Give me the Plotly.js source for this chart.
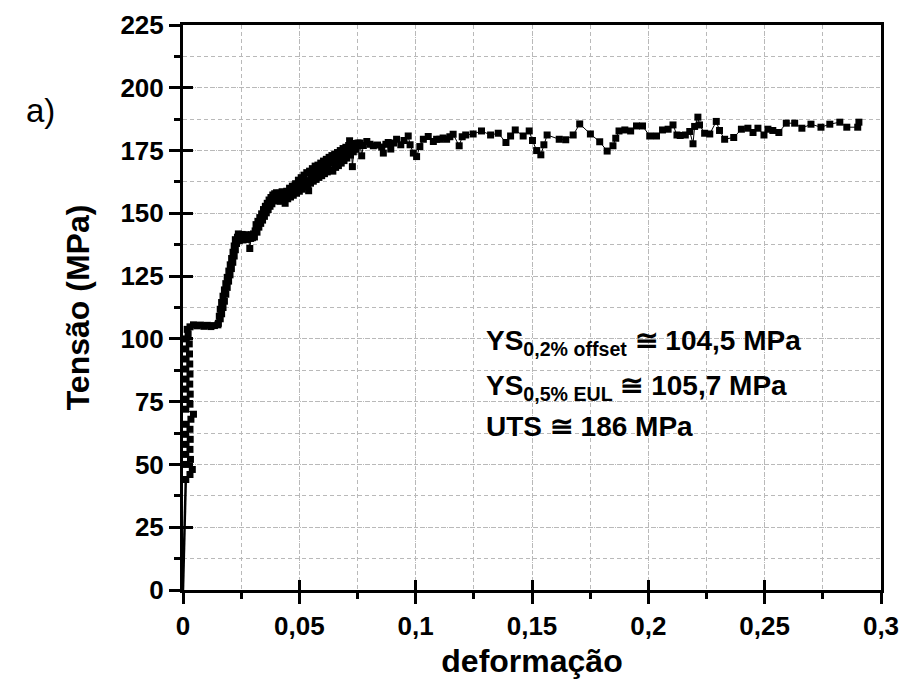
<!DOCTYPE html>
<html><head><meta charset="utf-8">
<script src="https://cdn.plot.ly/plotly-3.0.1.min.js"></script>
<style>html,body{margin:0;padding:0;background:#fff;}#chart{width:903px;height:684px;}</style>
</head><body><div id="chart"></div>
<script>
// initial elastic loading (drawn as line only)
const initStrain = [0, 0.0002, 0.0003, 0.0005, 0.0006, 0.0008, 0.0010, 0.0012];
const initStress = [0, 6, 12, 18, 24, 30, 37, 44];

// remaining test record (line + symbol)
const strain = [
  // elastic band
  0.0012, 0.0030, 0.0040, 0.0014, 0.0032, 0.0012, 0.0030, 0.0013, 0.0031, 0.0012, 0.0030, 0.0014, 0.0034, 0.0045, 0.0012, 0.0030,
  0.0013, 0.0031, 0.0012, 0.0029, 0.0013, 0.0030, 0.0012, 0.0029, 0.0013, 0.0028, 0.0012, 0.0027, 0.0014, 0.0022, 0.0018,
  // yield plateau
  0.0030, 0.0045, 0.0060, 0.0075, 0.0090, 0.0105, 0.0120, 0.0135, 0.0150,
  // rise
  0.0152, 0.0160, 0.0156, 0.0166, 0.0160, 0.0172, 0.0166, 0.0178, 0.0172, 0.0184, 0.0178, 0.0190, 0.0184, 0.0196, 0.0190,
  0.0202, 0.0197, 0.0208, 0.0203, 0.0214, 0.0209, 0.0220, 0.0215, 0.0225, 0.0220, 0.0230, 0.0225, 0.0234,
  // second plateau
  0.0238, 0.0242, 0.0246, 0.0250, 0.0254, 0.0258, 0.0262, 0.0266, 0.0270, 0.0274, 0.0278, 0.0282, 0.0287, 0.0291, 0.0295, 0.0299, 0.0303, 0.0307,
  // rise
  0.0310, 0.0314, 0.0318, 0.0322, 0.0326, 0.0330, 0.0334, 0.0338, 0.0342, 0.0346, 0.0350, 0.0354, 0.0358, 0.0362, 0.0366, 0.0370,
  0.0374, 0.0378, 0.0382, 0.0386, 0.0390, 0.0394, 0.0398,
  0.0402, 0.0406, 0.0410, 0.0414, 0.0418, 0.0422, 0.0426, 0.0430, 0.0434, 0.0439, 0.0442, 0.0446, 0.0450, 0.0454, 0.0458, 0.0462,
  0.0466, 0.0470, 0.0474, 0.0478, 0.0482,
  // dense band
  0.0484, 0.0488, 0.0492, 0.0496, 0.0500, 0.0504, 0.0508, 0.0512, 0.0516, 0.0520, 0.0524, 0.0528, 0.0532, 0.0536, 0.0540, 0.0544,
  0.0548, 0.0552, 0.0556, 0.0560, 0.0564, 0.0568, 0.0572, 0.0576, 0.0580, 0.0584, 0.0588, 0.0592, 0.0596, 0.0600, 0.0604, 0.0608,
  0.0612, 0.0616, 0.0620, 0.0624, 0.0628, 0.0632, 0.0636, 0.0640, 0.0644, 0.0648, 0.0652, 0.0656, 0.0660, 0.0664, 0.0668, 0.0672,
  0.0676, 0.0680, 0.0684, 0.0688, 0.0692, 0.0696, 0.0700, 0.0704, 0.0708, 0.0712, 0.0716, 0.0720, 0.0724, 0.0728, 0.0732, 0.0736,
  0.0740, 0.0744, 0.0748, 0.0752,
  // hardening to saturation
  0.0761, 0.0768, 0.0775, 0.0790, 0.0804, 0.0818, 0.0836, 0.0854, 0.0861, 0.0872, 0.0882, 0.0893, 0.0905, 0.0918, 0.0936, 0.0950,
  0.0968, 0.0976, 0.0990, 0.1004, 0.1018, 0.1033, 0.1054, 0.1076, 0.1090, 0.1104, 0.1118, 0.1133, 0.1147, 0.1161, 0.1187, 0.1200, 0.1215,
  0.1247, 0.1283, 0.1322, 0.1355, 0.1388, 0.1408, 0.1428, 0.1462, 0.1488, 0.1502, 0.1520, 0.1538, 0.1551, 0.1565, 0.1617, 0.1645, 0.1677, 0.1705,
  0.1751, 0.1791, 0.1823, 0.1848, 0.1860, 0.1874, 0.1899, 0.1924, 0.1949, 0.1975, 0.2006, 0.2035, 0.2061, 0.2085, 0.2106, 0.2123, 0.2137, 0.2159,
  0.2178, 0.2192, 0.2199, 0.2213, 0.2220, 0.2242, 0.2264, 0.2292, 0.2306, 0.2328, 0.2367, 0.2400, 0.2428, 0.2450, 0.2471, 0.2497, 0.2514, 0.2535,
  0.2561, 0.2593, 0.2629, 0.2660, 0.2699, 0.2742, 0.2780, 0.2823, 0.2853, 0.2900, 0.2905
];
const stress = [
  44, 46, 48, 50, 52, 54, 56, 58, 60, 62, 64, 66, 68, 70, 72, 74,
  76, 78, 80, 82, 84, 86, 88, 90, 92, 94, 96, 98, 100, 102, 103.8,
  104.8, 105.6, 105.2, 105.5, 105.0, 105.4, 104.9, 105.3, 105.6,
  106.2, 108.0, 109.0, 110.0, 111.8, 112.5, 114.5, 115.0, 117.0, 117.8, 119.5, 120.5, 122.0, 123.0, 124.5,
  125.5, 127.0, 128.0, 129.5, 130.5, 132.0, 133.0, 134.5, 135.5, 137.0, 138.0, 139.5, 140.5,
  141.8, 139.2, 141.3, 139.8, 141.6, 139.4, 141.2, 139.9, 141.5, 139.6, 141.0, 140.2, 136.0, 140.0, 141.5, 140.3, 141.8, 140.6,
  143.0, 145.5, 142.5, 146.8, 144.5, 148.3, 146.0, 149.8, 147.3, 151.5, 148.8, 152.8, 150.2, 154.0, 151.5, 155.3,
  152.8, 156.3, 153.8, 157.3, 155.0, 157.8, 155.8,
  158.2, 155.0, 156.8, 158.0, 154.8, 156.5, 158.6, 155.5, 157.2, 154.0, 156.5, 158.8, 155.8, 157.8, 160.0, 156.5,
  158.5, 160.8, 157.2, 159.5, 161.3,
  161.8, 158.0, 160.0, 163.2, 158.8, 161.0, 164.2, 159.6, 162.0, 165.2, 160.5, 163.0, 166.2, 161.2, 159.0, 166.8,
  162.0, 164.5, 167.8, 162.8, 165.5, 168.8, 163.5, 166.3, 169.2, 164.3, 167.0, 170.0, 165.0, 167.8, 170.8, 165.8,
  168.5, 171.5, 166.5, 169.2, 172.3, 167.2, 170.0, 173.0, 166.8, 170.5, 173.5, 168.3, 171.2, 174.2, 169.0, 172.0,
  175.0, 170.0, 172.8, 175.8, 171.0, 173.5, 176.3, 172.0, 174.5, 177.0, 178.9, 173.2, 175.5, 168.6, 174.5, 176.8,
  177.8, 175.5, 176.8, 178.0,
  178.0, 172.9, 177, 178.6, 177.5, 176.9, 177.2, 176.4, 174.0, 177.5, 178.2, 175.6, 178, 179.5, 177.3, 179,
  180.8, 177.3, 174.0, 172.6, 176.6, 179.5, 180.6, 178.6, 179.5, 179.5, 180, 179.5, 180.5, 181.5, 176.9, 180.5, 181.2,
  181.6, 182.8, 181.2, 181.9, 178.2, 180.8, 183.2, 180.8, 182.8, 179.0, 175.0, 173.3, 177.3, 181.2, 179.5, 179.3, 181.2, 185.6,
  181.6, 178.5, 174.8, 176.9, 179.9, 182.8, 183.2, 182.8, 184.8, 184.8, 180.8, 180.8, 183.2, 183.5, 185.2, 181.2, 181.0, 181.2,
  182.6, 177.7, 184.6, 188.3, 185.2, 181.9, 181.6, 186.6, 183.0, 179.5, 180.2, 183.5, 183.9, 182.2, 183.9, 181.2, 183.5, 183.0,
  182.2, 185.9, 185.9, 183.9, 185.5, 184.3, 185.5, 186.3, 184.3, 184.3, 186.3
];

const xTicks = [0, 0.05, 0.1, 0.15, 0.2, 0.25, 0.3];
const yTicks = [0, 25, 50, 75, 100, 125, 150, 175, 200, 225];
const notes = [
  {x: 0.1293, y: 98.5, text: 'YS<sub>0,2% offset</sub> ≅ 104,5 MPa'},
  {x: 0.1293, y: 80.5, text: 'YS<sub>0,5% EUL</sub> ≅ 105,7 MPa'},
  {x: 0.1293, y: 65, text: 'UTS ≅ 186 MPa'}
];

const FONT = 'Liberation Sans, Arial, sans-serif';
const gridCol = '#b9b9b9';

const traces = [
  {x: initStrain, y: initStress, mode: 'lines', line: {color: '#000', width: 2.5}, showlegend: false, hoverinfo: 'skip'},
  {x: strain, y: stress, mode: 'lines+markers', line: {color: '#000', width: 1}, marker: {symbol: 'square', size: 7, color: '#000'}, showlegend: false},
  {x: [], y: [], xaxis: 'x2', yaxis: 'y2', showlegend: false}
];

const axBase = {
  showline: true, linecolor: '#000', linewidth: 3, mirror: true,
  ticks: 'outside', ticklen: 11, tickwidth: 3, tickcolor: '#000',
  zeroline: false, showgrid: true, gridcolor: gridCol, gridwidth: 1, griddash: '1px,2px',
  tickfont: {family: FONT, size: 26, color: '#000', weight: 'bold'}
};

const layout = {
  width: 903, height: 684,
  margin: {l: 183, r: 22, t: 25, b: 94},
  paper_bgcolor: '#fff', plot_bgcolor: '#fff',
  separators: ',.',
  showlegend: false,
  xaxis: Object.assign({}, axBase, {
    range: [0, 0.3], tickmode: 'array', tickvals: xTicks,
    ticktext: xTicks.map(v => String(v).replace('.', ',')),
    minor: {dtick: 0.025, tick0: 0, ticks: 'outside', ticklen: 6, tickwidth: 3, tickcolor: '#000', showgrid: true, gridcolor: gridCol, gridwidth: 1, griddash: '4px,3px'},
    title: {text: 'deformação', font: {family: FONT, size: 32, color: '#000', weight: 'bold'}, standoff: 10}
  }),
  yaxis: Object.assign({}, axBase, {
    range: [0, 225], tickmode: 'array', tickvals: yTicks,
    minor: {dtick: 12.5, tick0: 0, ticks: 'outside', ticklen: 6, tickwidth: 3, tickcolor: '#000', showgrid: true, gridcolor: gridCol, gridwidth: 1, griddash: '4px,3px'},
    title: {text: 'Tensão (MPa)', font: {family: FONT, size: 32, color: '#000', weight: 'bold'}, standoff: 22}
  }),
  xaxis2: {overlaying: 'x', anchor: 'y2', side: 'bottom', range: [0, 0.3], tickmode: 'array', tickvals: xTicks,
    ticks: 'inside', ticklen: 10, tickwidth: 3, tickcolor: '#000', showticklabels: false, showgrid: false, zeroline: false, showline: false},
  yaxis2: {overlaying: 'y', anchor: 'x2', side: 'left', range: [0, 225], tickmode: 'array', tickvals: yTicks,
    ticks: 'inside', ticklen: 10, tickwidth: 3, tickcolor: '#000', showticklabels: false, showgrid: false, zeroline: false, showline: false},
  annotations: notes.map(n => ({
    x: n.x, y: n.y, xref: 'x', yref: 'y', xanchor: 'left', yanchor: 'middle', showarrow: false,
    text: '<b>' + n.text + '</b>', font: {family: FONT, size: 28, color: '#000'}
  })).concat([{
    x: (40 - 183) / (903 - 183 - 22), y: (684 - 94 - 110) / (684 - 25 - 94),
    xref: 'paper', yref: 'paper', xanchor: 'center', yanchor: 'middle', showarrow: false, text: 'a)',
    font: {family: FONT, size: 33, color: '#000'}
  }])
};

Plotly.newPlot('chart', traces, layout, {displayModeBar: false, staticPlot: true});
</script>
</body></html>
